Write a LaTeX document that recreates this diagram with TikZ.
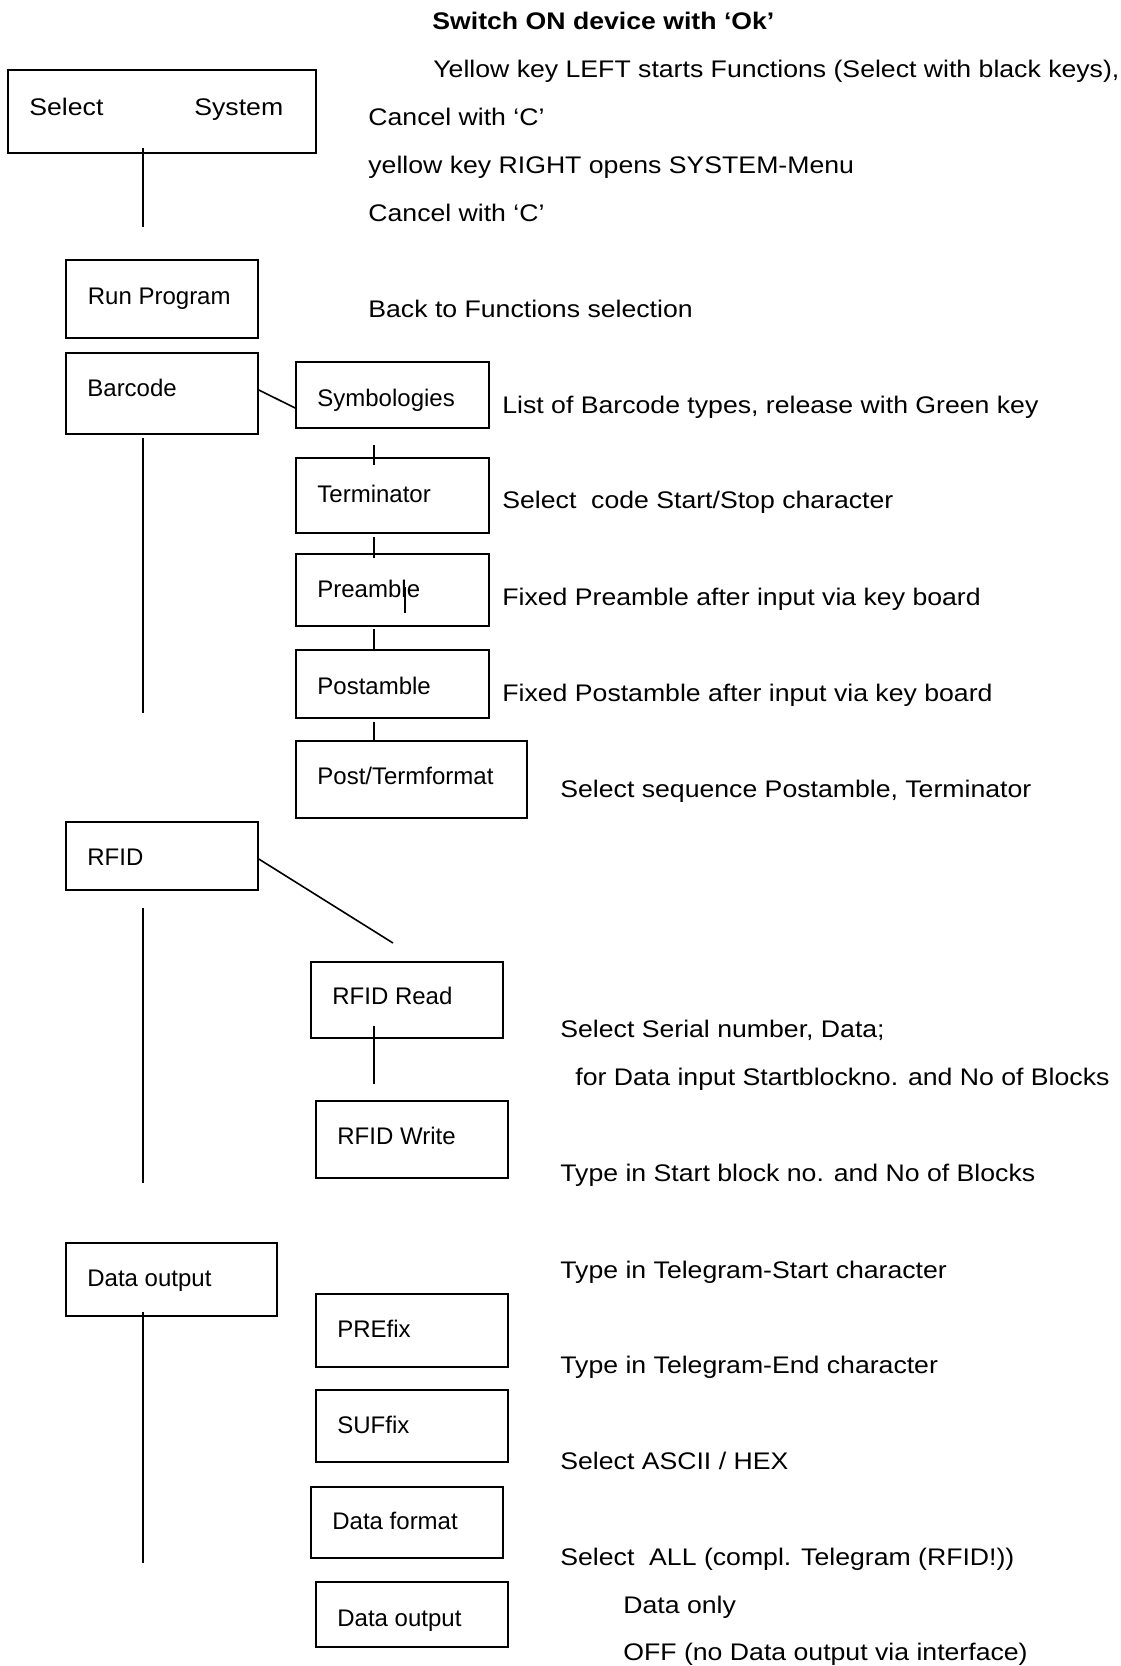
\documentclass[tikz,border=0pt]{standalone}
\usepackage{fontspec}
\setmainfont{Liberation Sans}[FakeStretch=1.11]
\newfontfamily\plainsans{Liberation Sans}
\begin{document}
\begin{tikzpicture}[x=0.5pt,y=-0.5pt,
  box/.style={draw, line width=0.8pt, rectangle, inner sep=0pt},
  lbl/.style={anchor=base west, inner sep=0pt, font=\fontsize{12}{14}\selectfont},
  blbl/.style={anchor=base west, inner sep=0pt, font=\plainsans\fontsize{12}{14}\selectfont},
  conn/.style={line width=0.8pt}]
\useasboundingbox[fill=white] (0,0) rectangle (1120,1666);

% ---------- boxes ----------
\node[box, minimum width=154pt,  minimum height=41.5pt] (sel)   at (162,111.5) {};
\node[box, minimum width=96pt,   minimum height=39pt]   (run)   at (162,299) {};
\node[box, minimum width=96pt,   minimum height=40.5pt] (bar)   at (162,393.5) {};
\node[box, minimum width=96.5pt, minimum height=33pt]   (sym)   at (392.5,395) {};
\node[box, minimum width=96.5pt, minimum height=37.5pt] (term)  at (392.5,495.5) {};
\node[box, minimum width=96.5pt, minimum height=36pt]   (pre)   at (392.5,590) {};
\node[box, minimum width=96.5pt, minimum height=34pt]   (post)  at (392.5,684) {};
\node[box, minimum width=115.5pt,minimum height=38.5pt] (ptf)   at (411.5,779.5) {};
\node[box, minimum width=96pt,   minimum height=34pt]   (rfid)  at (162,856) {};
\node[box, minimum width=96pt,   minimum height=38pt]   (rr)    at (407,1000) {};
\node[box, minimum width=96pt,   minimum height=38.5pt] (rw)    at (412,1139.5) {};
\node[box, minimum width=105.5pt,minimum height=36.5pt] (dout)  at (171.5,1279.5) {};
\node[box, minimum width=96pt,   minimum height=36.5pt] (pref)  at (412,1330.5) {};
\node[box, minimum width=96pt,   minimum height=36pt]   (suf)   at (412,1426) {};
\node[box, minimum width=96pt,   minimum height=35.5pt] (dfmt)  at (407,1522.5) {};
\node[box, minimum width=96pt,   minimum height=32.5pt] (douts) at (412,1614.5) {};

% ---------- box labels ----------
\node[lbl] (tsel1) at (29,115) {Select};
\node[lbl] (tsel2) at (194,115) {System};
\node[blbl] (trun)  at (87.5,304) {Run Program};
\node[blbl] (tbar)  at (87,396) {Barcode};
\node[blbl] (tsym)  at (317,406) {Symbologies};
\node[blbl] (tterm) at (317,502) {Terminator};
\node[blbl] (tpre)  at (317,597) {Preamble};
\node[blbl] (tpost) at (317,694) {Postamble};
\node[blbl] (tptf)  at (317,784) {Post/Termformat};
\node[blbl] (trfid) at (87,865) {RFID};
\node[blbl] (trr)   at (332,1004) {RFID Read};
\node[blbl] (trw)   at (337,1144) {RFID Write};
\node[blbl] (tdout) at (87,1286) {Data output};
\node[blbl] (tpref) at (337,1337) {PREfix};
\node[blbl] (tsuf)  at (337,1433) {SUFfix};
\node[blbl] (tdfmt) at (332,1529) {Data format};
\node[blbl] (tdouts) at (337,1626) {Data output};

% ---------- descriptions ----------
\node[lbl, font=\fontsize{12}{14}\selectfont\bfseries] (d0) at (432,29) {Switch ON device with ‘Ok’};
\node[lbl] (d1) at (433,77)  {Yellow key LEFT starts Functions (Select with black keys),};
\node[lbl] (d2) at (368,125) {Cancel with ‘C’};
\node[lbl] (d3) at (368,173) {yellow key RIGHT opens SYSTEM-Menu};
\node[lbl] (d4) at (368,221) {Cancel with ‘C’};
\node[lbl] (d5) at (368,317) {Back to Functions selection};
\node[lbl] (d6) at (502,413) {List of Barcode types, release with Green key};
\node[lbl] (d7) at (502,508) {Select\ \ code Start/Stop character};
\node[lbl] (d8) at (502,605) {Fixed Preamble after input via key board};
\node[lbl] (d9) at (502,701) {Fixed Postamble after input via key board};
\node[lbl] (d10) at (560,797) {Select sequence Postamble, Terminator};
\node[lbl] (d11) at (560,1037) {Select Serial number, Data;};
\node[lbl] (d12) at (575,1085) {for Data input Startblockno. and No of Blocks};
\node[lbl] (d13) at (560,1181) {Type in Start block no. and No of Blocks};
\node[lbl] (d14) at (560,1278) {Type in Telegram-Start character};
\node[lbl] (d15) at (560,1373) {Type in Telegram-End character};
\node[lbl] (d16) at (560,1469) {Select ASCII / HEX};
\node[lbl] (d17) at (560,1565) {Select\ \ ALL (compl. Telegram (RFID!))};
\node[lbl] (d18) at (623,1613) {Data only};
\node[lbl] (d19) at (623,1660) {OFF (no Data output via interface)};

% ---------- connector end points ----------
\coordinate (s1) at (143,148);  \coordinate (s2) at (143,227);
\coordinate (b1) at (143,438);  \coordinate (b2) at (143,713);
\coordinate (k1) at (374,445);  \coordinate (k2) at (374,465);
\coordinate (k3) at (374,537);  \coordinate (k4) at (374,558);
\coordinate (k5) at (405,587);  \coordinate (k6) at (405,613);
\coordinate (k7) at (374,629);  \coordinate (k8) at (374,650);
\coordinate (k9) at (374,722);  \coordinate (k10) at (374,742);
\coordinate (r1) at (393,943);
\coordinate (r2) at (143,908);  \coordinate (r3) at (143,1183);
\coordinate (r4) at (374,1026); \coordinate (r5) at (374,1084);
\coordinate (o1) at (143,1312); \coordinate (o2) at (143,1563);

% ---------- connectors ----------
\draw[conn] (s1) -- (s2);
\draw[conn] ([yshift=1.75pt]bar.east) -- ([yshift=-6.5pt]sym.west);
\draw[conn] (b1) -- (b2);
\draw[conn] (k1) -- (k2);
\draw[conn] (k3) -- (k4);
\draw[conn] (k5) -- (k6);
\draw[conn] (k7) -- (k8);
\draw[conn] (k9) -- (k10);
\draw[conn] ([yshift=-1.5pt]rfid.east) -- (r1);
\draw[conn] (r2) -- (r3);
\draw[conn] (r4) -- (r5);
\draw[conn] (o1) -- (o2);
\end{tikzpicture}
\end{document}
